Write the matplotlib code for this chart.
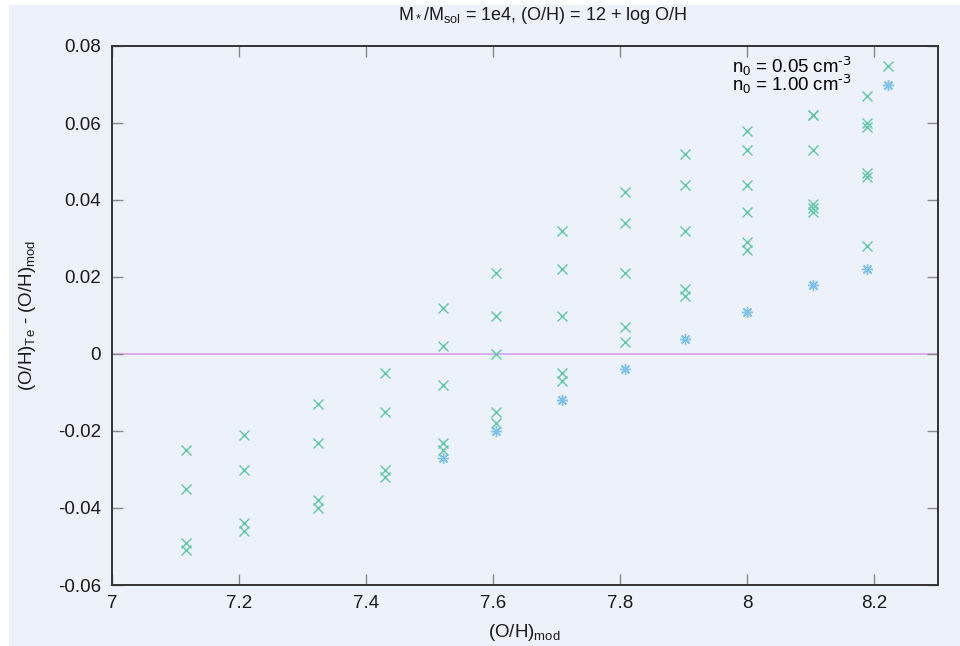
import numpy as np
import matplotlib.pyplot as plt
from matplotlib.patches import Rectangle

plt.rcParams['font.family'] = ['Liberation Sans', 'DejaVu Sans']
plt.rcParams['mathtext.default'] = 'regular'

# (O/H)_mod positions of the model grid
x_cols = [7.116, 7.208, 7.324, 7.43, 7.521, 7.605, 7.709, 7.808, 7.902, 8.0, 8.104, 8.189]

# n0 = 0.05 cm^-3, offsets per column
y_low = [
    [-0.025, -0.035, -0.049, -0.051],
    [-0.021, -0.030, -0.044, -0.046],
    [-0.013, -0.023, -0.038, -0.040],
    [-0.005, -0.015, -0.030, -0.032],
    [0.012, 0.002, -0.008, -0.023, -0.025],
    [0.021, 0.010, 0.000, -0.015, -0.018],
    [0.032, 0.022, 0.010, -0.005, -0.007],
    [0.042, 0.034, 0.021, 0.007, 0.003],
    [0.052, 0.044, 0.032, 0.017, 0.015],
    [0.058, 0.053, 0.044, 0.037, 0.029, 0.027],
    [0.062, 0.062, 0.053, 0.039, 0.038, 0.037],
    [0.067, 0.060, 0.059, 0.047, 0.046, 0.028],
]

# n0 = 1.00 cm^-3 (only visible from 7.52 upwards)
x_high = [7.521, 7.605, 7.709, 7.808, 7.902, 8.0, 8.104, 8.189]
y_high = [-0.027, -0.020, -0.012, -0.004, 0.004, 0.011, 0.018, 0.022]

c_low = '#5ccaa5'
c_high = '#7cc4ef'
c_zero = '#d6a8f0'
bg = '#edf1f9'
txt = '#1a1a1a'

W, H = 960, 646
fig = plt.figure(figsize=(W / 100, H / 100), dpi=100)
fig.patch.set_facecolor('white')
fig.patches.append(Rectangle((9 / W, 0), 1 - 9 / W, 1 - 5 / H,
                             transform=fig.transFigure, facecolor=bg,
                             edgecolor='none', zorder=-10))
ax = fig.add_axes([112 / W, 1 - 585 / H, (937.5 - 112) / W, (585 - 46) / H])
ax.set_facecolor(bg)

xl = [x for x, ys in zip(x_cols, y_low) for _ in ys]
yl = [y for ys in y_low for y in ys]

ax.axhline(0, color=c_zero, lw=1.3, zorder=1)
ax.plot(xl, yl, ls='none', marker='x', ms=7.5, mew=1.0, color=c_low,
        label=r'n$_0$ = 0.05 cm$^{\text{-3}}$', zorder=3)
ax.plot(x_high, y_high, ls='none', marker=(8, 2, 0), ms=8, mew=1.0, color=c_high,
        label=r'n$_0$ = 1.00 cm$^{\text{-3}}$', zorder=2)

ax.set_xlim(7, 8.3)
ax.set_ylim(-0.06, 0.08)
ax.set_xticks(np.arange(7, 8.21, 0.2))
ax.set_xticklabels(['7', '7.2', '7.4', '7.6', '7.8', '8', '8.2'])
ax.set_yticks(np.arange(-0.06, 0.081, 0.02))
ax.set_yticklabels(['-0.06', '-0.04', '-0.02', '0', '0.02', '0.04', '0.06', '0.08'])
ax.tick_params(direction='in', length=8, width=1, color='#888888',
               labelsize=13.5, labelcolor=txt, top=True, right=True)
ax.tick_params(axis='x', pad=7)
ax.tick_params(axis='y', pad=8)
for s in ax.spines.values():
    s.set_color('#333333')
    s.set_linewidth(1.4)

ax.set_xlabel(r'(O/H)$_{mod}$', fontsize=13.5, color=txt)
ax.xaxis.set_label_coords(0.5, (585 - 622) / 539)
ax.set_ylabel(r'(O/H)$_{Te}$ - (O/H)$_{mod}$', fontsize=13.5, color=txt)
ax.yaxis.set_label_coords((38 - 112) / 825.5, 0.5)

fig.text(543 / W, 1 - 19.5 / H, r'M$_*$/M$_{sol}$ = 1e4, (O/H) = 12 + log O/H',
         fontsize=13, color=txt, ha='center', va='baseline')

ax.legend(loc='upper right', bbox_to_anchor=((897 - 112) / 825.5, (585 - 54) / 539),
          frameon=False, markerfirst=False, fontsize=13.4, handlelength=1.0,
          handletextpad=1.4, labelspacing=-0.3, borderpad=0, borderaxespad=0)

fig.savefig('out.png', dpi=100)
